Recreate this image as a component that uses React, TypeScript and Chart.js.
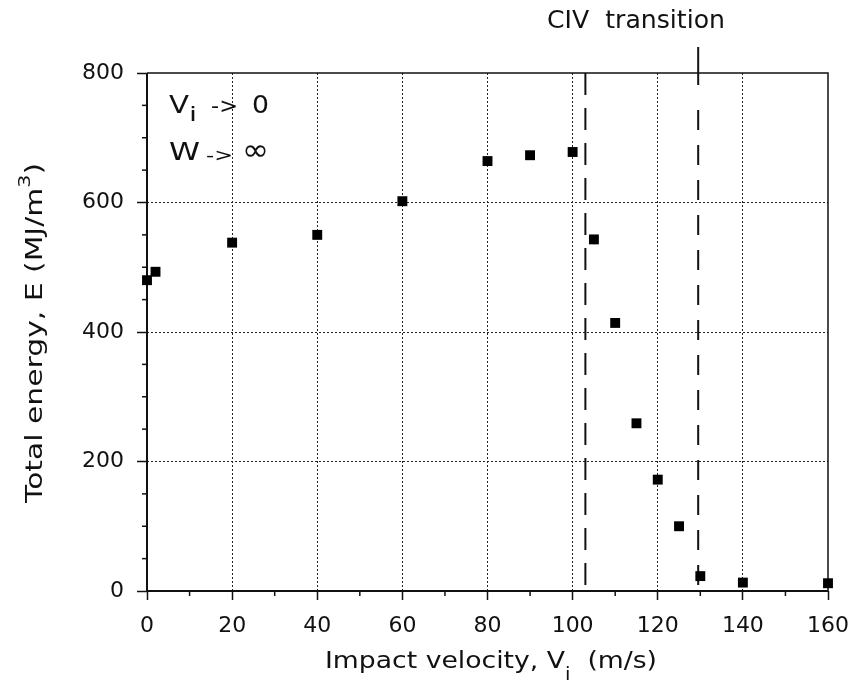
import React, { useEffect, useRef } from "react";
import { Chart, registerables } from "chart.js";

Chart.register(...registerables);

const velocities = [0, 2, 20, 40, 60, 80, 90, 100, 105, 110, 115, 120, 125, 130, 140, 160];
const energies = [480, 493, 538, 550, 602, 664, 673, 678, 543, 414, 259, 172, 100, 23, 13, 12];
const transitionLines = [103, 129.5];
const xTickStep = 20;
const yTickStep = 200;
const xMinorStep = 10;
const yMinorStep = 50;

const FONT = '"DejaVu Sans", sans-serif';

type Seg = { t: string; size: number; dy: number };

function drawSegs(ctx: CanvasRenderingContext2D, segs: Seg[], x: number, y: number, targetW: number | null, rot = 0) {
  ctx.save();
  let natural = 0;
  for (const s of segs) {
    ctx.font = `${s.size}px ${FONT}`;
    natural += ctx.measureText(s.t).width;
  }
  const sx = targetW ? targetW / natural : 1;
  ctx.translate(x, y);
  if (rot) ctx.rotate(rot);
  ctx.scale(sx, 1);
  ctx.fillStyle = "#111";
  ctx.textBaseline = "alphabetic";
  ctx.textAlign = "left";
  let cx = 0;
  for (const s of segs) {
    ctx.font = `${s.size}px ${FONT}`;
    ctx.fillText(s.t, cx, s.dy);
    cx += ctx.measureText(s.t).width;
  }
  ctx.restore();
}

const decorPlugin = {
  id: "decor",
  beforeDatasetsDraw(chart: any) {
    const { ctx, chartArea: a, scales } = chart;
    const xs = scales.x;
    const ys = scales.y;
    ctx.save();
    ctx.strokeStyle = "#111";
    ctx.setLineDash([]);
    // minor ticks
    ctx.lineWidth = 1.5;
    for (let v = 0; v <= 160; v += xMinorStep) {
      if (v % xTickStep === 0) continue;
      const px = xs.getPixelForValue(v);
      ctx.beginPath();
      ctx.moveTo(px, a.bottom);
      ctx.lineTo(px, a.bottom + 5);
      ctx.stroke();
    }
    for (let v = 0; v <= 800; v += yMinorStep) {
      if (v % yTickStep === 0) continue;
      const py = ys.getPixelForValue(v);
      ctx.beginPath();
      ctx.moveTo(a.left - 5, py);
      ctx.lineTo(a.left, py);
      ctx.stroke();
    }
    // frame
    ctx.lineWidth = 1.5;
    ctx.beginPath();
    ctx.moveTo(a.left, a.top);
    ctx.lineTo(a.right, a.top);
    ctx.lineTo(a.right, a.bottom);
    ctx.stroke();
    ctx.lineWidth = 2;
    ctx.beginPath();
    ctx.moveTo(a.left, a.top);
    ctx.lineTo(a.left, a.bottom);
    ctx.lineTo(a.right, a.bottom);
    ctx.stroke();
    // transition lines
    ctx.lineWidth = 2;
    const p1 = xs.getPixelForValue(transitionLines[0]);
    ctx.setLineDash([22, 13]);
    ctx.beginPath();
    ctx.moveTo(p1, a.top);
    ctx.lineTo(p1, a.bottom);
    ctx.stroke();
    const p2 = xs.getPixelForValue(transitionLines[1]);
    ctx.setLineDash([]);
    ctx.beginPath();
    ctx.moveTo(p2, 47);
    ctx.lineTo(p2, a.top + 12);
    ctx.stroke();
    ctx.setLineDash([20, 15]);
    ctx.beginPath();
    ctx.moveTo(p2, a.top + 37);
    ctx.lineTo(p2, a.bottom);
    ctx.stroke();
    ctx.restore();
  },
  afterDraw(chart: any) {
    const { ctx } = chart;
    // axis titles
    drawSegs(ctx, [
      { t: "Impact velocity, V", size: 23, dy: 0 },
      { t: "i", size: 17, dy: 12 },
      { t: "  (m/s)", size: 23, dy: 0 },
    ], 325, 668, 332);
    drawSegs(ctx, [
      { t: "Total energy, E (MJ/m", size: 23, dy: 0 },
      { t: "3", size: 16, dy: -12 },
      { t: ")", size: 23, dy: 0 },
    ], 42, 503, 340, -Math.PI / 2);
    // annotations
    drawSegs(ctx, [{ t: "CIV  transition", size: 25, dy: 0 }], 547, 28, 178);
    drawSegs(ctx, [{ t: "V", size: 25, dy: 0 }], 169, 113, 20);
    drawSegs(ctx, [{ t: "i", size: 19, dy: 0 }], 189, 121, 8);
    drawSegs(ctx, [{ t: "->", size: 22, dy: 0 }], 211, 113, 27);
    drawSegs(ctx, [{ t: "0", size: 25, dy: 0 }], 252, 113, 17);
    drawSegs(ctx, [{ t: "W", size: 25, dy: 0 }], 169, 160, 31);
    drawSegs(ctx, [{ t: "->", size: 17, dy: 0 }], 206, 161, 27);
    drawSegs(ctx, [{ t: "∞", size: 30, dy: 0 }], 242, 160, 27);
  },
};

export default function App() {
  const ref = useRef<HTMLCanvasElement>(null);
  useEffect(() => {
    if (!ref.current) return;
    const gridColor = (edgeA: number, edgeB: number) => (c: any) =>
      c.tick && (c.tick.value === edgeA || c.tick.value === edgeB) ? "rgba(0,0,0,0)" : "#222";
    const chart = new Chart(ref.current, {
      type: "scatter",
      data: {
        datasets: [
          {
            data: velocities.map((v, i) => ({ x: v, y: energies[i] })),
            pointStyle: "rect",
            pointRadius: 7,
            pointBorderWidth: 0,
            backgroundColor: "#000",
            borderColor: "#000",
            clip: false as any,
          },
        ],
      },
      options: {
        animation: false,
        responsive: false,
        layout: { padding: { left: 0, top: 73, right: 27, bottom: 0 } },
        plugins: { legend: { display: false }, tooltip: { enabled: false } },
        scales: {
          x: {
            type: "linear",
            min: 0,
            max: 160,
            afterFit: (s: any) => {
              s.height = 99;
              s.paddingLeft = 0;
              s.paddingRight = 0;
            },
            ticks: {
              stepSize: xTickStep,
              color: "#111",
              font: { family: FONT, size: 22 },
              padding: 13,
              maxRotation: 0,
            },
            grid: {
              color: gridColor(0, 160),
              lineWidth: 1,
              tickColor: "#111",
              tickLength: 9,
              tickWidth: 1.5,
            },
            border: { display: false, dash: [2, 2] },
          },
          y: {
            type: "linear",
            min: 0,
            max: 800,
            afterFit: (s: any) => {
              s.width = 147;
              s.paddingTop = 0;
              s.paddingBottom = 0;
            },
            ticks: {
              stepSize: yTickStep,
              color: "#111",
              font: { family: FONT, size: 22 },
              padding: 13,
            },
            grid: {
              color: gridColor(0, 800),
              lineWidth: 1,
              tickColor: "#111",
              tickLength: 10,
              tickWidth: 1.5,
            },
            border: { display: false, dash: [2, 2] },
          },
        },
      },
      plugins: [decorPlugin],
    });
    return () => chart.destroy();
  }, []);
  return (
    <div style={{ position: "fixed", left: 0, top: 0, width: 855, height: 690, background: "#fff" }}>
      <canvas ref={ref} width={855} height={690} />
    </div>
  );
}
